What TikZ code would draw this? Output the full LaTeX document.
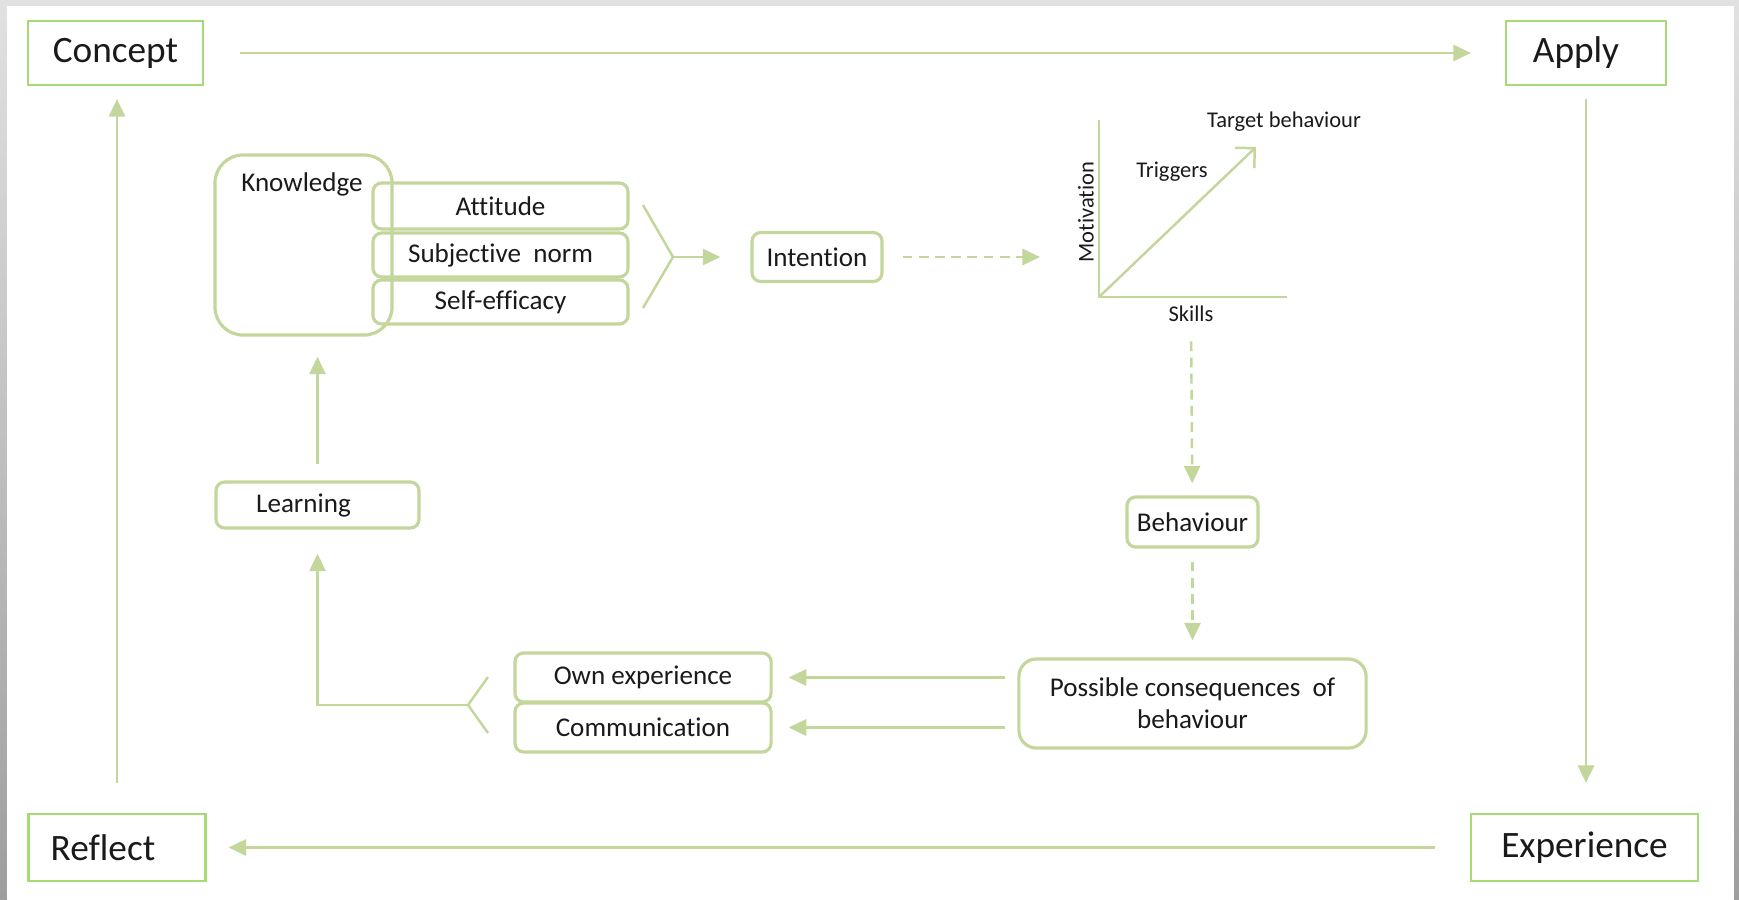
\documentclass[tikz,border=0pt]{standalone}
\usepackage{fontspec}
\setmainfont[Ligatures={NoCommon,NoContextual}]{Carlito}
\usetikzlibrary{arrows.meta,positioning}
\definecolor{framegreen}{HTML}{A6DA72}
\definecolor{palegreen}{HTML}{C3D69B}
\definecolor{pagegrey}{HTML}{E1E1E1}
\definecolor{edgegrey}{HTML}{9E9E9E}
\definecolor{inktext}{HTML}{1A1A1A}

\begin{document}
\begin{tikzpicture}[x=0.01cm,y=-0.01cm,
      stage/.style={draw=framegreen,line width=0.6pt,minimum height=0.64cm,font=\fontsize{10.6}{12}\selectfont,text=inktext},
      part/.style={draw=palegreen,line width=0.9pt,rounded corners=2.5pt,inner sep=1pt,font=\fontsize{7.7}{9.2}\selectfont,text=inktext,align=center},
      axislbl/.style={font=\fontsize{6.4}{7.5}\selectfont,text=inktext},
      wire/.style={draw=palegreen,line width=0.7pt},
      flow/.style={wire,-{Triangle[length=5pt,width=4.6pt]}},
      dflow/.style={flow,dash pattern=on 2.8pt off 1.8pt}
    ]
    \useasboundingbox (0,0) rectangle (1739,899);
    \fill[pagegrey] (0,0) rectangle (1739,899);
    \shade[top color=pagegrey,bottom color=edgegrey] (0,0) rectangle (7,899);
    \shade[top color=pagegrey,bottom color=edgegrey] (1734,0) rectangle (1739,899);
    \fill[white] (7,6) rectangle (1734,899);

    \node[stage,minimum width=1.75cm] (concept) at (115.5,53) {Concept};
    \node[stage,minimum width=1.6cm] (apply) at (1586,53) {Apply\hspace*{0.2cm}};
    \node[stage,minimum width=1.77cm,minimum height=0.67cm] (reflect) at (117,847.5) {Reflect\hspace*{0.28cm}};
    \node[stage,minimum width=2.27cm,minimum height=0.67cm] (experience) at (1584.5,847.5) {Experience};
    \draw[flow,shorten <=0.36cm,shorten >=0.34cm] (concept) -- (apply);
    \draw[flow,shorten <=0.13cm,shorten >=0.3cm] (apply) -- (apply |- experience.north);
    \draw[flow,shorten <=0.35cm,shorten >=0.22cm] (experience) -- (reflect);
    \draw[flow,shorten <=0.3cm,shorten >=0.13cm] (reflect) -- (reflect |- concept.south);

    \node[part,rounded corners=8pt,minimum width=1.77cm,minimum height=1.8cm] (knowledge) at (303.5,245) {};
    \node[part,draw=none] (knowtext) at (302,184) {Knowledge};
    \node[part,minimum width=2.55cm,minimum height=0.46cm] (attitude) at (500.5,206) {Attitude};
    \node[part,minimum width=2.55cm,minimum height=0.44cm] (subnorm) at (500.5,255) {Subjective\ \ norm};
    \node[part,minimum width=2.55cm,minimum height=0.44cm] (selfeff) at (500.5,302) {Self-efficacy};
    \coordinate (forkA) at (673,257);
    \coordinate (forkAtop) at (643,205);
    \coordinate (forkAbot) at (643,308);
    \draw[wire] (forkAtop) -- (forkA) -- (forkAbot);
    \node[part,minimum width=1.3cm,minimum height=0.49cm] (intention) at (817,257) {Intention};
    \draw[flow,shorten >=0.3cm] (forkA) -- (intention);

    \coordinate (origin) at (1099,297);
    \coordinate (ytop) at (1099,120);
    \coordinate (xend) at (1287,297);
    \coordinate (target) at (1256,147);
    \coordinate (chartin) at (1040,257);
    \draw[dflow,shorten <=0.19cm] (intention) -- (chartin);
    \draw[wire] (ytop) -- (origin) -- (xend);
    \draw[wire,-{Straight Barb[length=4pt,width=8pt]}] (origin) -- (target);
    \node[axislbl,rotate=90] (motiv) at (1086,212) {Motivation};
    \node[axislbl] (trig) at (1172,172) {Triggers};
    \node[axislbl] (targ) at (1284,122) {Target behaviour};
    \node[axislbl] (skills) at (1191,314) {Skills};

    \node[part,minimum width=1.31cm,minimum height=0.5cm] (behaviour) at (1192.5,522) {Behaviour};
    \draw[dflow,shorten <=0.07cm,shorten >=0.12cm] (skills) -- (behaviour);
    \node[part,rounded corners=5pt,minimum width=3.47cm,minimum height=0.89cm] (possible) at (1192.5,703.5) {Possible consequences\ \ of\\behaviour};
    \draw[dflow,shorten <=0.13cm,shorten >=0.17cm] (behaviour) -- (possible);

    \node[part,minimum width=2.56cm,minimum height=0.49cm] (ownexp) at (643,677.5) {Own experience};
    \node[part,minimum width=2.56cm,minimum height=0.49cm] (commun) at (643,727.5) {Communication};
    \draw[flow,shorten <=0.12cm,shorten >=0.16cm] (possible.west |- ownexp) -- (ownexp);
    \draw[flow,shorten <=0.12cm,shorten >=0.16cm] (possible.west |- commun) -- (commun);

    \node[part,minimum width=2.03cm,minimum height=0.46cm] (learning) at (317.5,505) {Learning\hspace*{0.28cm}};
    \coordinate (forkB) at (468,705);
    \coordinate (forkBtop) at (488,677);
    \coordinate (forkBbot) at (488,733);
    \draw[wire] (forkBtop) -- (forkB) -- (forkBbot);
    \draw[flow,shorten >=0.24cm] (forkB) -| (learning);
    \draw[flow,shorten <=0.16cm,shorten >=0.2cm] (learning) -- (learning |- knowledge.south);
  \end{tikzpicture}
\end{document}
